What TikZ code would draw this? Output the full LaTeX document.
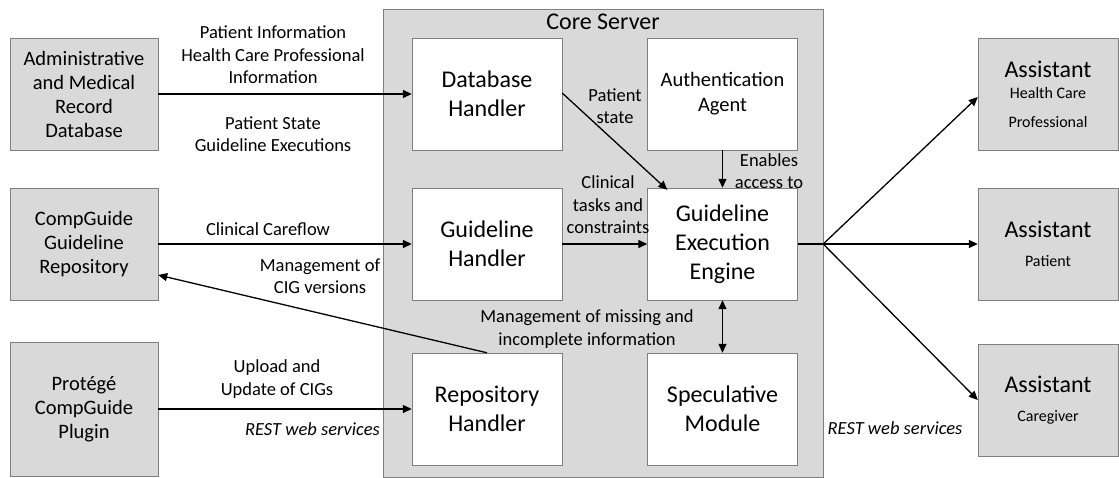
\documentclass[tikz,border=0pt]{standalone}
\usepackage{fontspec}
\setmainfont{Carlito}
\usetikzlibrary{arrows.meta, positioning, calc}

\newcommand{\subline}[1]{{\fontsize{16}{27}\selectfont #1}}

\begin{document}
\begin{tikzpicture}[x=1pt, y=-1pt,
    extbox/.style={draw=boxline, fill=boxgray, minimum width=148pt, minimum height=112pt, inner sep=0pt, align=center, font=\fontsize{20.5}{24}\selectfont},
    modbox/.style={draw=boxline, fill=white, minimum width=150pt, minimum height=112pt, inner sep=0pt, align=center, font=\fontsize{24}{29}\selectfont},
    appbox/.style={draw=boxline, fill=boxgray, minimum width=140pt, minimum height=112pt, inner sep=0pt, align=center, font=\fontsize{24}{29}\selectfont},
    lbl/.style={align=center, inner sep=0pt, font=\fontsize{18.5}{22.5}\selectfont},
    flow/.style={line width=1.3pt, -{Triangle[length=9pt, width=8pt]}}]

\definecolor{boxgray}{RGB}{217,217,217}
\definecolor{boxline}{RGB}{127,127,127}

\useasboundingbox (0,0) rectangle (1119,477);

% Core server frame
\node[draw=boxline, fill=boxgray, minimum width=440pt, minimum height=468pt, inner sep=0pt] (core) at (603,243) {};
\node[font=\fontsize{24}{29}\selectfont, inner sep=0pt] (coretitle) at (603,22) {Core Server};

% External sources (left)
\node[extbox] (admin) at (84,94) {Administrative\\and Medical\\Record\\Database};
\node[extbox] (cgrep) at (84,244) {CompGuide\\Guideline\\Repository};
\node[extbox, minimum height=134pt] (protege) at (84,409) {Protégé\\CompGuide\\Plugin};

% Core modules
\node[modbox] (dbh) at (487,94) {Database\\Handler};
\node[modbox, font=\fontsize{20.5}{25}\selectfont] (auth) at (722.5,94) {Authentication\\Agent};
\node[modbox] (gh) at (487,244) {Guideline\\Handler};
\node[modbox] (gee) at (722.5,244) {Guideline\\Execution\\Engine};
\node[modbox] (rh) at (487,409) {Repository\\Handler};
\node[modbox] (spec) at (722.5,409) {Speculative\\Module};

% Assistants (right)
\node[appbox] (hcp) at (1048,94) {Assistant\\[-8pt]\subline{Health Care}\\[0pt]\subline{Professional}};
\node[appbox] (pat) at (1048,244) {Assistant\\\subline{Patient}};
\node[appbox] (care) at (1048,400) {Assistant\\\subline{Caregiver}};

% Connectors left side
\draw[flow] (admin) -- (dbh);
\draw[flow] (cgrep) -- (gh);
\draw[flow] (protege) -- (rh);
\draw[flow] (rh.north) -- ($(cgrep.east)+(0,31)$);

% Connectors inside the core
\draw[flow] ($(dbh.east)+(0,-1)$) -- ($(gee.north west)+(20,2)$);
\draw[flow] (auth) -- (gee);
\draw[flow] (gh) -- (gee);
\draw[line width=1.3pt, {Triangle[length=9pt, width=8pt]}-{Triangle[length=9pt, width=8pt]}] (gee) -- (spec);

% Fan out to the assistants
\coordinate (hub) at (core.east |- gee.east);
\draw[line width=1.3pt] (gee) -- (hub);
\draw[flow] (hub) -- ($(hcp.west)+(0,3)$);
\draw[flow] (hub) -- (pat);
\draw[flow] (hub) -- (care.west);

% Labels
\node[lbl] (lpatinfo) at (273,55) {Patient Information\\Health Care Professional\\Information};
\node[lbl] (lpatstate) at (273,134) {Patient State\\Guideline Executions};
\node[lbl] (lcareflow) at (268,229) {Clinical Careflow};
\node[lbl] (lversions) at (320,276) {Management of\\CIG versions};
\node[lbl] (lupload) at (277,379) {Upload and\\Update of CIGs};
\node[lbl, font=\fontsize{18.5}{22.5}\selectfont\itshape, anchor=east] (lrestleft) at (380,429) {REST web services};
\node[lbl] (lstate) at (615,106) {Patient\\state};
\node[lbl] (laccess) at (769,171) {Enables\\access to};
\node[lbl] (ltasks) at (608,205) {Clinical\\tasks and\\constraints};
\node[lbl] (lmissing) at (587,329) {Management of missing and\\incomplete information};
\node[lbl, font=\fontsize{18.5}{22.5}\selectfont\itshape] (lrestright) at (895,428) {REST web services};

\end{tikzpicture}
\end{document}
